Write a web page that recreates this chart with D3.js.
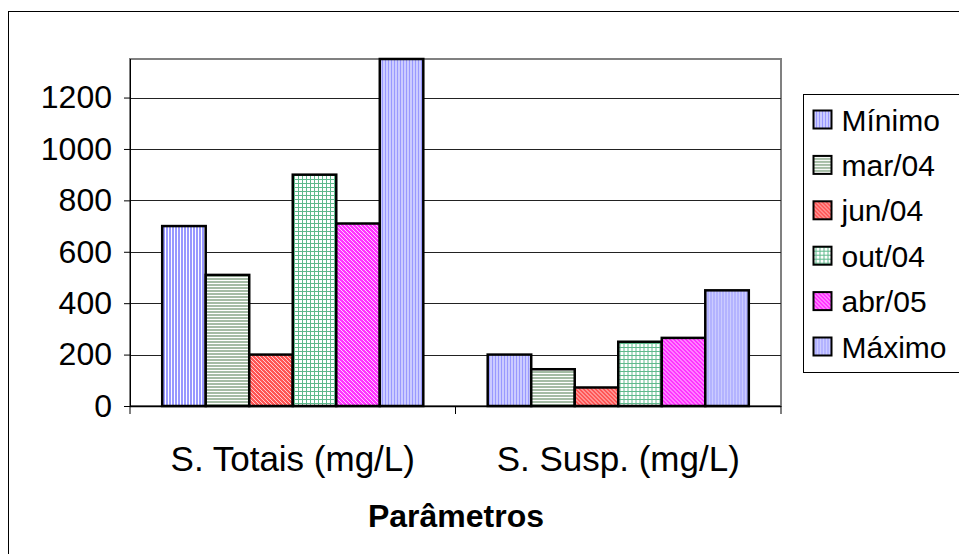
<!DOCTYPE html>
<html>
<head>
<meta charset="utf-8">
<script src="https://cdn.jsdelivr.net/npm/d3@7"></script>
<style>
  body { margin: 0; background: #fff; }
  svg { font-family: "Liberation Sans", Arial, sans-serif; }
</style>
</head>
<body>
<svg id="chart" width="959" height="554"></svg>
<script>
// data
const categories = ["S. Totais (mg/L)", "S. Susp. (mg/L)"];
const seriesNames = ["Mínimo", "mar/04", "jun/04", "out/04", "abr/05", "Máximo"];
const minimo = [700, 200];
const mar04 = [510, 143];
const jun04 = [200, 72];
const out04 = [900, 250];
const abr05 = [710, 265];
const maximo = [1350, 450];
const yTicks = [0, 200, 400, 600, 800, 1000, 1200];

const seriesValues = [minimo, mar04, jun04, out04, abr05, maximo];

const svg = d3.select("#chart"),
      margin = {top: 59, left: 130},
      width = 651,
      height = 347;

// hatch patterns, roughly like the old Excel fills
const defs = svg.append("defs");
function pat(id, w, h, bg, cells, col) {
  const p = defs.append("pattern").attr("id", id).attr("patternUnits", "userSpaceOnUse")
    .attr("width", w).attr("height", h);
  p.append("rect").attr("width", w).attr("height", h).attr("fill", bg).attr("shape-rendering", "crispEdges");
  cells.forEach(c => p.append("rect").attr("x", c[0]).attr("y", c[1]).attr("width", c[2]).attr("height", c[3])
    .attr("fill", col).attr("shape-rendering", "crispEdges"));
}
pat("p0", 3, 3, "#fff", [[0, 0, 2, 3]], "#9999ff");
pat("p1", 3, 3, "#fff", [[0, 0, 3, 2]], "#a5bca5");
pat("p2", 4, 4, "#ff5555", [[0, 0, 1, 1], [1, 1, 1, 1], [2, 2, 1, 1], [3, 3, 1, 1]], "#ffd0d0");
pat("p3", 4, 4, "#fff", [[0, 0, 1, 4], [0, 0, 4, 1]], "#5fb98c");
pat("p4", 4, 4, "#ff33ff", [[0, 0, 1, 1], [1, 1, 1, 1], [2, 2, 1, 1], [3, 3, 1, 1]], "#ffd0ff");
pat("p5", 3, 3, "#ccccff", [[0, 0, 1, 3]], "#9999ff");

// outer chart border (runs off the right and bottom)
svg.append("rect").attr("x", 8.5).attr("y", 11.5).attr("width", 1000).attr("height", 600)
  .attr("fill", "none").attr("stroke", "#000").attr("stroke-width", 1);

const g = svg.append("g").attr("transform", "translate(" + margin.left + "," + margin.top + ")");

const x0 = d3.scaleBand().domain(categories).range([0, width]);
const x1 = d3.scaleBand().domain(seriesNames).range([0, x0.bandwidth()]).paddingOuter(0.74);
const y = d3.scaleLinear().domain([0, 1350]).range([height, 0]);

// plot area border
g.append("rect").attr("width", width).attr("height", height)
  .attr("fill", "none").attr("stroke", "#808080").attr("stroke-width", 2);

// gridlines
g.append("g").selectAll("line").data(yTicks.filter(d => d > 0)).join("line")
  .attr("x1", 0).attr("x2", width)
  .attr("y1", d => Math.round(y(d)) + 0.5).attr("y2", d => Math.round(y(d)) + 0.5)
  .attr("stroke", "#222").attr("stroke-width", 1);

// bars
const rows = categories.map((c, i) => ({cat: c, vals: seriesNames.map((s, j) => ({s, j, v: seriesValues[j][i]}))}));
g.append("g").selectAll("g").data(rows).join("g")
  .attr("transform", d => "translate(" + x0(d.cat) + ",0)")
  .selectAll("rect").data(d => d.vals).join("rect")
  .attr("x", d => x1(d.s))
  .attr("width", x1.bandwidth())
  .attr("y", d => y(d.v))
  .attr("height", d => height - y(d.v))
  .attr("fill", d => "url(#p" + d.j + ")")
  .attr("stroke", "#000").attr("stroke-width", 2.5);

// y axis
const yAxis = g.append("g")
  .call(d3.axisLeft(y).tickValues(yTicks).tickSize(6).tickPadding(12).tickFormat(d3.format("d")));
yAxis.select(".domain").attr("stroke", "#000").attr("d", "M0.5,0V" + height);
yAxis.selectAll("text").attr("font-size", 32).attr("fill", "#000").attr("font-family", "Liberation Sans, Arial, sans-serif");

// x axis
const xAxis = g.append("g").attr("transform", "translate(0," + height + ")")
  .call(d3.axisBottom(x0).tickSize(0).tickPadding(40));
xAxis.select(".domain").attr("stroke", "#000").attr("stroke-width", 1.5).attr("d", "M0,0.5H" + width);
xAxis.selectAll("text").attr("font-size", 35).attr("fill", "#000").attr("font-family", "Liberation Sans, Arial, sans-serif");
xAxis.append("g").selectAll("line").data([0, width / 2, width]).join("line")
  .attr("x1", d => d).attr("x2", d => d).attr("y1", 0).attr("y2", 8)
  .attr("stroke", "#000");

// axis title
svg.append("text").attr("x", 456).attr("y", 527).attr("text-anchor", "middle")
  .attr("font-size", 32).attr("font-weight", "bold").text("Parâmetros");

// legend
const legend = svg.append("g").attr("transform", "translate(803.5,94.5)");
legend.append("rect").attr("width", 200).attr("height", 278)
  .attr("fill", "#fff").attr("stroke", "#000").attr("stroke-width", 1);
const item = legend.selectAll("g.item").data(seriesNames).join("g").attr("class", "item")
  .attr("transform", (d, i) => "translate(0," + (24 + i * 45.4) + ")");
item.append("rect").attr("x", 10).attr("y", -8).attr("width", 18).attr("height", 18)
  .attr("fill", (d, i) => "url(#p" + i + ")").attr("stroke", "#000").attr("stroke-width", 2);
item.append("text").attr("x", 38).attr("y", 12).attr("font-size", 30).text(d => d);
</script>
</body>
</html>
